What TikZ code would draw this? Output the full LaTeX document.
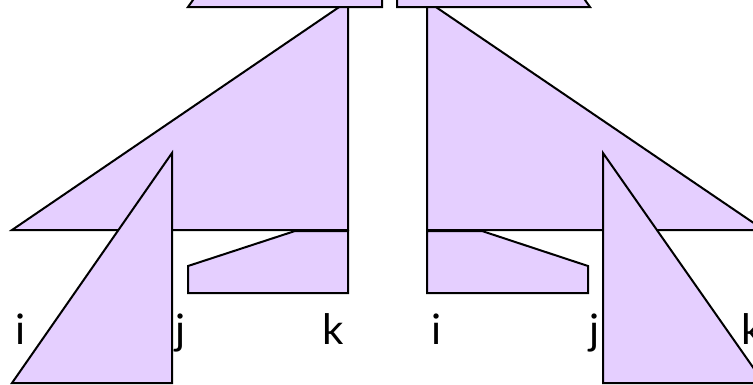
\documentclass[tikz,border=0pt]{standalone}
\usepackage{fontspec}
\setmainfont{Lato}
\definecolor{lav}{RGB}{229,207,255}
\begin{document}
\begin{tikzpicture}[x=1pt,y=-1pt,
  shp/.style={fill=lav,draw=black,line width=2pt,line join=miter},
  lbl/.style={anchor=base,inner sep=0pt,font=\fontsize{42}{50}\selectfont}]
\useasboundingbox (0,0) rectangle (753,384);
\clip (0,0) rectangle (753,384);
% left half
\draw[shp] (12,230) -- (348,1) -- (348,230) -- cycle;
\draw[shp] (188,266) -- (295,231) -- (348,231) -- (348,293) -- (188,293) -- cycle;
\draw[shp] (188,7) -- (198,-7) -- (382,-7) -- (382,7) -- cycle;
\draw[shp] (12,383) -- (172,153) -- (172,383) -- cycle;
% right half
\draw[shp] (764,230) -- (427,1) -- (427,230) -- cycle;
\draw[shp] (588,266) -- (482,231) -- (427,231) -- (427,293) -- (588,293) -- cycle;
\draw[shp] (590,7) -- (580,-7) -- (397,-7) -- (397,7) -- cycle;
\draw[shp] (764,383) -- (603,153) -- (603,383) -- cycle;
% labels
\node[lbl] (li) at (21,344) {i};
\node[lbl] (lj) at (181,344) {j};
\node[lbl] (lk) at (333,344) {k};
\node[lbl] (ri) at (437,344) {i};
\node[lbl] (rj) at (595,344) {j};
\node[lbl] (rk) at (752,344) {k};
\end{tikzpicture}
\end{document}
